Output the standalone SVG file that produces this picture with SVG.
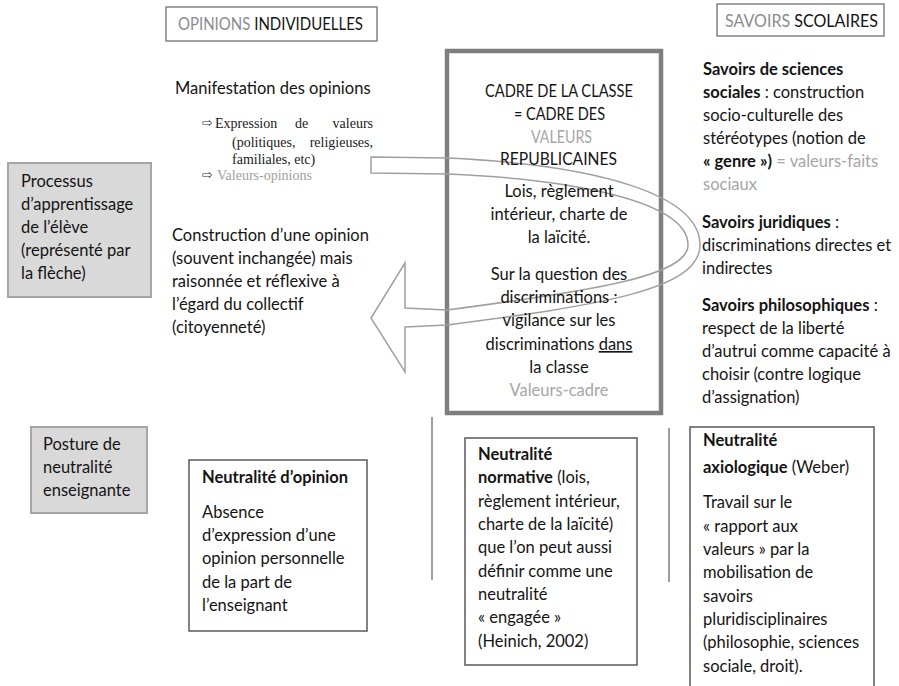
<svg xmlns="http://www.w3.org/2000/svg" width="899" height="686" viewBox="0 0 899 686">
<style>
  .t{font-family:Lato,"Liberation Sans",sans-serif;font-size:16.5px;fill:#141414}
  .b{font-weight:bold}
  .g{fill:#8c8c8c}
  .lg{fill:#a6a6a6}
  .c{text-anchor:middle}
  .tm{font-family:"Liberation Serif","Times New Roman",serif;font-size:14px;fill:#1a1a1a}
  .ar{font-family:"DejaVu Sans",sans-serif;font-size:12.5px;fill:#333}
  .hdr{fill:#fff;stroke:#707070;stroke-width:1.3}
  .gray{fill:#d9d9d9;stroke:#a6a6a6;stroke-width:2}
  .wbox{fill:#fff;stroke:#595959;stroke-width:1.5}
  .flow{fill:none;stroke:#a0a0a0;stroke-width:1.5;stroke-linejoin:miter}
  .sep{stroke:#7f7f7f;stroke-width:1.5}
</style>

<rect width="899" height="686" fill="#fff"/>

<g id="connectors">
  <line class="sep" x1="432" y1="417" x2="432" y2="580"/>
  <line class="sep" x1="669" y1="428" x2="669" y2="582"/>
</g>

<g id="header-opinions">
  <rect class="hdr" x="166" y="7" width="211" height="34"/>
  <text class="t" x="178" y="30" textLength="185" lengthAdjust="spacingAndGlyphs"><tspan class="g">OPINIONS</tspan> INDIVIDUELLES</text>
</g>

<g id="header-savoirs">
  <rect class="hdr" x="717" y="4" width="167" height="32"/>
  <text class="t" x="725" y="27" textLength="153" lengthAdjust="spacingAndGlyphs"><tspan class="g">SAVOIRS</tspan> SCOLAIRES</text>
</g>

<g id="cadre">
  <rect x="447" y="51" width="214" height="362" fill="none" stroke="#7f7f7f" stroke-width="4.5"/>
</g>

<g id="arrow">
  <path class="flow" d="M405,327 L447,325 C600,305 700,290 700,245 C700,195 600,165 447,158 L371,157 L371,173 L447,174 C590,180 688,205 688,245 C688,275 600,290 447,310 L405,308 L405,263 L371,318 L405,372 Z"/>
</g>

<g id="cadre-text">
  <text class="t" x="485" y="97" textLength="148" lengthAdjust="spacingAndGlyphs">CADRE DE LA CLASSE</text>
  <text class="t" x="514" y="120" textLength="91" lengthAdjust="spacingAndGlyphs">= CADRE DES</text>
  <text class="t lg" x="531" y="143" textLength="61" lengthAdjust="spacingAndGlyphs">VALEURS</text>
  <text class="t" x="500" y="165" textLength="117" lengthAdjust="spacingAndGlyphs">REPUBLICAINES</text>
  <text class="t c" x="559" y="197">Lois, règlement</text>
  <text class="t c" x="559" y="220">intérieur, charte de</text>
  <text class="t c" x="559" y="243">la laïcité.</text>
  <text class="t c" x="559" y="280">Sur la question des</text>
  <text class="t c" x="559" y="303">discriminations :</text>
  <text class="t c" x="559" y="326">vigilance sur les</text>
  <text class="t c" x="559" y="350">discriminations <tspan text-decoration="underline">dans</tspan></text>
  <text class="t c" x="559" y="373">la classe</text>
  <text class="t c lg" x="559" y="396">Valeurs-cadre</text>
</g>

<g id="manifestation">
  <text class="t" x="175" y="94">Manifestation des opinions</text>
  <text class="ar" x="202" y="127">⇨</text>
  <text class="tm" x="215" y="128">Expression</text>
  <text class="tm" x="295" y="128">de</text>
  <text class="tm" x="373" y="128" text-anchor="end">valeurs</text>
  <text class="tm" x="232" y="147">(politiques,</text>
  <text class="tm" x="373" y="147" text-anchor="end">religieuses,</text>
  <text class="tm" x="232" y="164">familiales, etc)</text>
  <text class="ar" x="202" y="179">⇨</text>
  <text class="tm" x="217" y="180" style="fill:#a0a0a0">Valeurs-opinions</text>
</g>

<g id="construction">
  <text class="t" x="172" y="241">Construction d’une opinion</text>
  <text class="t" x="172" y="264">(souvent inchangée) mais</text>
  <text class="t" x="172" y="287">raisonnée et réflexive à</text>
  <text class="t" x="172" y="310">l’égard du collectif</text>
  <text class="t" x="172" y="333">(citoyenneté)</text>
</g>

<g id="processus">
  <rect class="gray" x="8" y="163" width="143" height="134"/>
  <text class="t" x="21" y="187">Processus</text>
  <text class="t" x="21" y="210">d’apprentissage</text>
  <text class="t" x="21" y="233">de l’élève</text>
  <text class="t" x="21" y="256">(représenté par</text>
  <text class="t" x="21" y="279">la flèche)</text>
</g>

<g id="savoirs-sciences-sociales">
  <text class="t" x="703" y="75"><tspan class="b">Savoirs de sciences</tspan></text>
  <text class="t" x="703" y="98"><tspan class="b">sociales</tspan> : construction</text>
  <text class="t" x="703" y="121">socio-culturelle des</text>
  <text class="t" x="703" y="144">stéréotypes (notion de</text>
  <text class="t" x="703" y="167"><tspan class="b">« genre »)</tspan> <tspan class="lg">= valeurs-faits</tspan></text>
  <text class="t lg" x="703" y="190">sociaux</text>
</g>

<g id="savoirs-juridiques">
  <text class="t" x="702" y="228"><tspan class="b">Savoirs juridiques</tspan> :</text>
  <text class="t" x="702" y="251">discriminations directes et</text>
  <text class="t" x="702" y="274">indirectes</text>
</g>

<g id="savoirs-philosophiques">
  <text class="t" x="702" y="311"><tspan class="b">Savoirs philosophiques</tspan> :</text>
  <text class="t" x="702" y="334">respect de la liberté</text>
  <text class="t" x="702" y="357">d’autrui comme capacité à</text>
  <text class="t" x="702" y="380">choisir (contre logique</text>
  <text class="t" x="702" y="403">d’assignation)</text>
</g>

<g id="posture">
  <rect class="gray" x="31" y="427" width="116" height="86"/>
  <text class="t" x="43" y="450">Posture de</text>
  <text class="t" x="43" y="473">neutralité</text>
  <text class="t" x="43" y="496">enseignante</text>
</g>

<g id="neutralite-opinion">
  <rect class="wbox" x="189" y="460" width="178" height="171"/>
  <text class="t b" x="202" y="483">Neutralité d’opinion</text>
  <text class="t" x="202" y="518">Absence</text>
  <text class="t" x="202" y="541">d’expression d’une</text>
  <text class="t" x="202" y="564">opinion personnelle</text>
  <text class="t" x="202" y="588">de la part de</text>
  <text class="t" x="202" y="611">l’enseignant</text>
</g>

<g id="neutralite-normative">
  <rect class="wbox" x="465" y="438" width="172" height="227"/>
  <text class="t b" x="478" y="460">Neutralité</text>
  <text class="t" x="478" y="483"><tspan class="b">normative</tspan> (lois,</text>
  <text class="t" x="478" y="507">règlement intérieur,</text>
  <text class="t" x="478" y="530">charte de la laïcité)</text>
  <text class="t" x="478" y="553">que l’on peut aussi</text>
  <text class="t" x="478" y="577">définir comme une</text>
  <text class="t" x="478" y="600">neutralité</text>
  <text class="t" x="478" y="623">« engagée »</text>
  <text class="t" x="478" y="647">(Heinich, 2002)</text>
</g>

<g id="neutralite-axiologique">
  <rect class="wbox" x="690" y="427" width="184" height="270"/>
  <text class="t b" x="703" y="446">Neutralité</text>
  <text class="t" x="703" y="473"><tspan class="b">axiologique</tspan> (Weber)</text>
  <text class="t" x="703" y="508">Travail sur le</text>
  <text class="t" x="703" y="532">« rapport aux</text>
  <text class="t" x="703" y="555">valeurs » par la</text>
  <text class="t" x="703" y="578">mobilisation de</text>
  <text class="t" x="703" y="602">savoirs</text>
  <text class="t" x="703" y="625">pluridisciplinaires</text>
  <text class="t" x="703" y="648">(philosophie, sciences</text>
  <text class="t" x="703" y="672">sociale, droit).</text>
</g>
</svg>
